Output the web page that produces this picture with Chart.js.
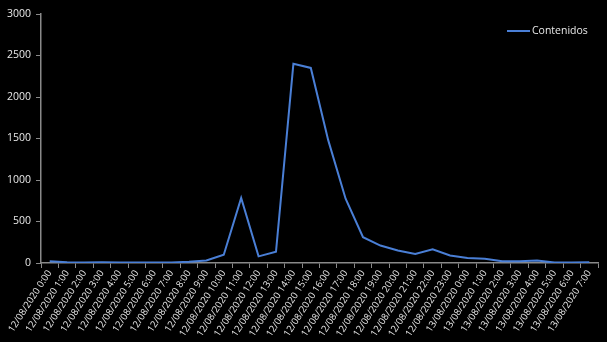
<!DOCTYPE html>
<html>
<head>
<meta charset="utf-8">
<script src="https://cdn.jsdelivr.net/npm/chart.js@4"></script>
<style>
  html, body { margin: 0; padding: 0; background: #000; }
  #wrap { width: 607px; height: 342px; }
</style>
</head>
<body>
<div id="wrap"><canvas id="chart"></canvas></div>
<script>
// categories (hourly)
const labels = [
  '12/08/2020 0:00','12/08/2020 1:00','12/08/2020 2:00','12/08/2020 3:00',
  '12/08/2020 4:00','12/08/2020 5:00','12/08/2020 6:00','12/08/2020 7:00',
  '12/08/2020 8:00','12/08/2020 9:00','12/08/2020 10:00','12/08/2020 11:00',
  '12/08/2020 12:00','12/08/2020 13:00','12/08/2020 14:00','12/08/2020 15:00',
  '12/08/2020 16:00','12/08/2020 17:00','12/08/2020 18:00','12/08/2020 19:00',
  '12/08/2020 20:00','12/08/2020 21:00','12/08/2020 22:00','12/08/2020 23:00',
  '13/08/2020 0:00','13/08/2020 1:00','13/08/2020 2:00','13/08/2020 3:00',
  '13/08/2020 4:00','13/08/2020 5:00','13/08/2020 6:00','13/08/2020 7:00'
];
const contenidos = [
  20, 10, 5, 10, 5, 5, 5, 5,
  15, 30, 100, 785, 80, 135, 2400, 2350,
  1480, 775, 310, 210, 150, 110, 165, 90,
  60, 50, 20, 20, 30, 5, 5, 10
];
const yTicks = [0, 500, 1000, 1500, 2000, 2500, 3000];

const lineColor = '#4a7fd6';
const axisColor = '#8a8a8a';
const textColor = '#e8e8e8';

// legend drawn inside the plot, top right
const insideLegend = {
  id: 'insideLegend',
  afterDraw(chart) {
    const ctx = chart.ctx;
    const ds = chart.data.datasets[0];
    ctx.save();
    ctx.strokeStyle = ds.borderColor;
    ctx.lineWidth = 2;
    ctx.beginPath();
    ctx.moveTo(507, 31);
    ctx.lineTo(530, 31);
    ctx.stroke();
    ctx.fillStyle = textColor;
    ctx.font = '10.5px "Open Sans"';
    ctx.textBaseline = 'middle';
    ctx.fillText(ds.label, 532, 31);
    ctx.restore();
  }
};

new Chart(document.getElementById('chart').getContext('2d'), {
  type: 'line',
  data: {
    labels: labels,
    datasets: [{
      label: 'Contenidos',
      data: contenidos,
      borderColor: lineColor,
      borderWidth: 2,
      pointRadius: 0,
      tension: 0,
      fill: false
    }]
  },
  options: {
    responsive: true,
    maintainAspectRatio: false,
    animation: false,
    layout: { padding: { top: 14, right: 9, left: 0, bottom: 0 } },
    plugins: {
      legend: { display: false },
      tooltip: { enabled: false }
    },
    scales: {
      x: {
        offset: true,
        afterFit: axis => { axis.height = 79; },
        grid: {
          offset: true,
          drawOnChartArea: false,
          color: axisColor,
          tickLength: 5
        },
        border: { color: axisColor, width: 1.5 },
        ticks: {
          color: textColor,
          font: { family: 'Open Sans', size: 9.5 },
          autoSkip: false,
          minRotation: 57,
          maxRotation: 57,
          padding: 0
        }
      },
      y: {
        min: 0,
        max: 3000,
        afterFit: axis => { axis.width = 41; },
        afterBuildTicks: axis => { axis.ticks = yTicks.map(v => ({ value: v })); },
        grid: {
          drawOnChartArea: false,
          color: axisColor,
          tickLength: 5
        },
        border: { color: axisColor, width: 1.5 },
        ticks: {
          color: textColor,
          font: { family: 'Open Sans', size: 10.5 },
          padding: 5,
          callback: v => String(v)
        }
      }
    }
  },
  plugins: [insideLegend]
});
</script>
</body>
</html>
